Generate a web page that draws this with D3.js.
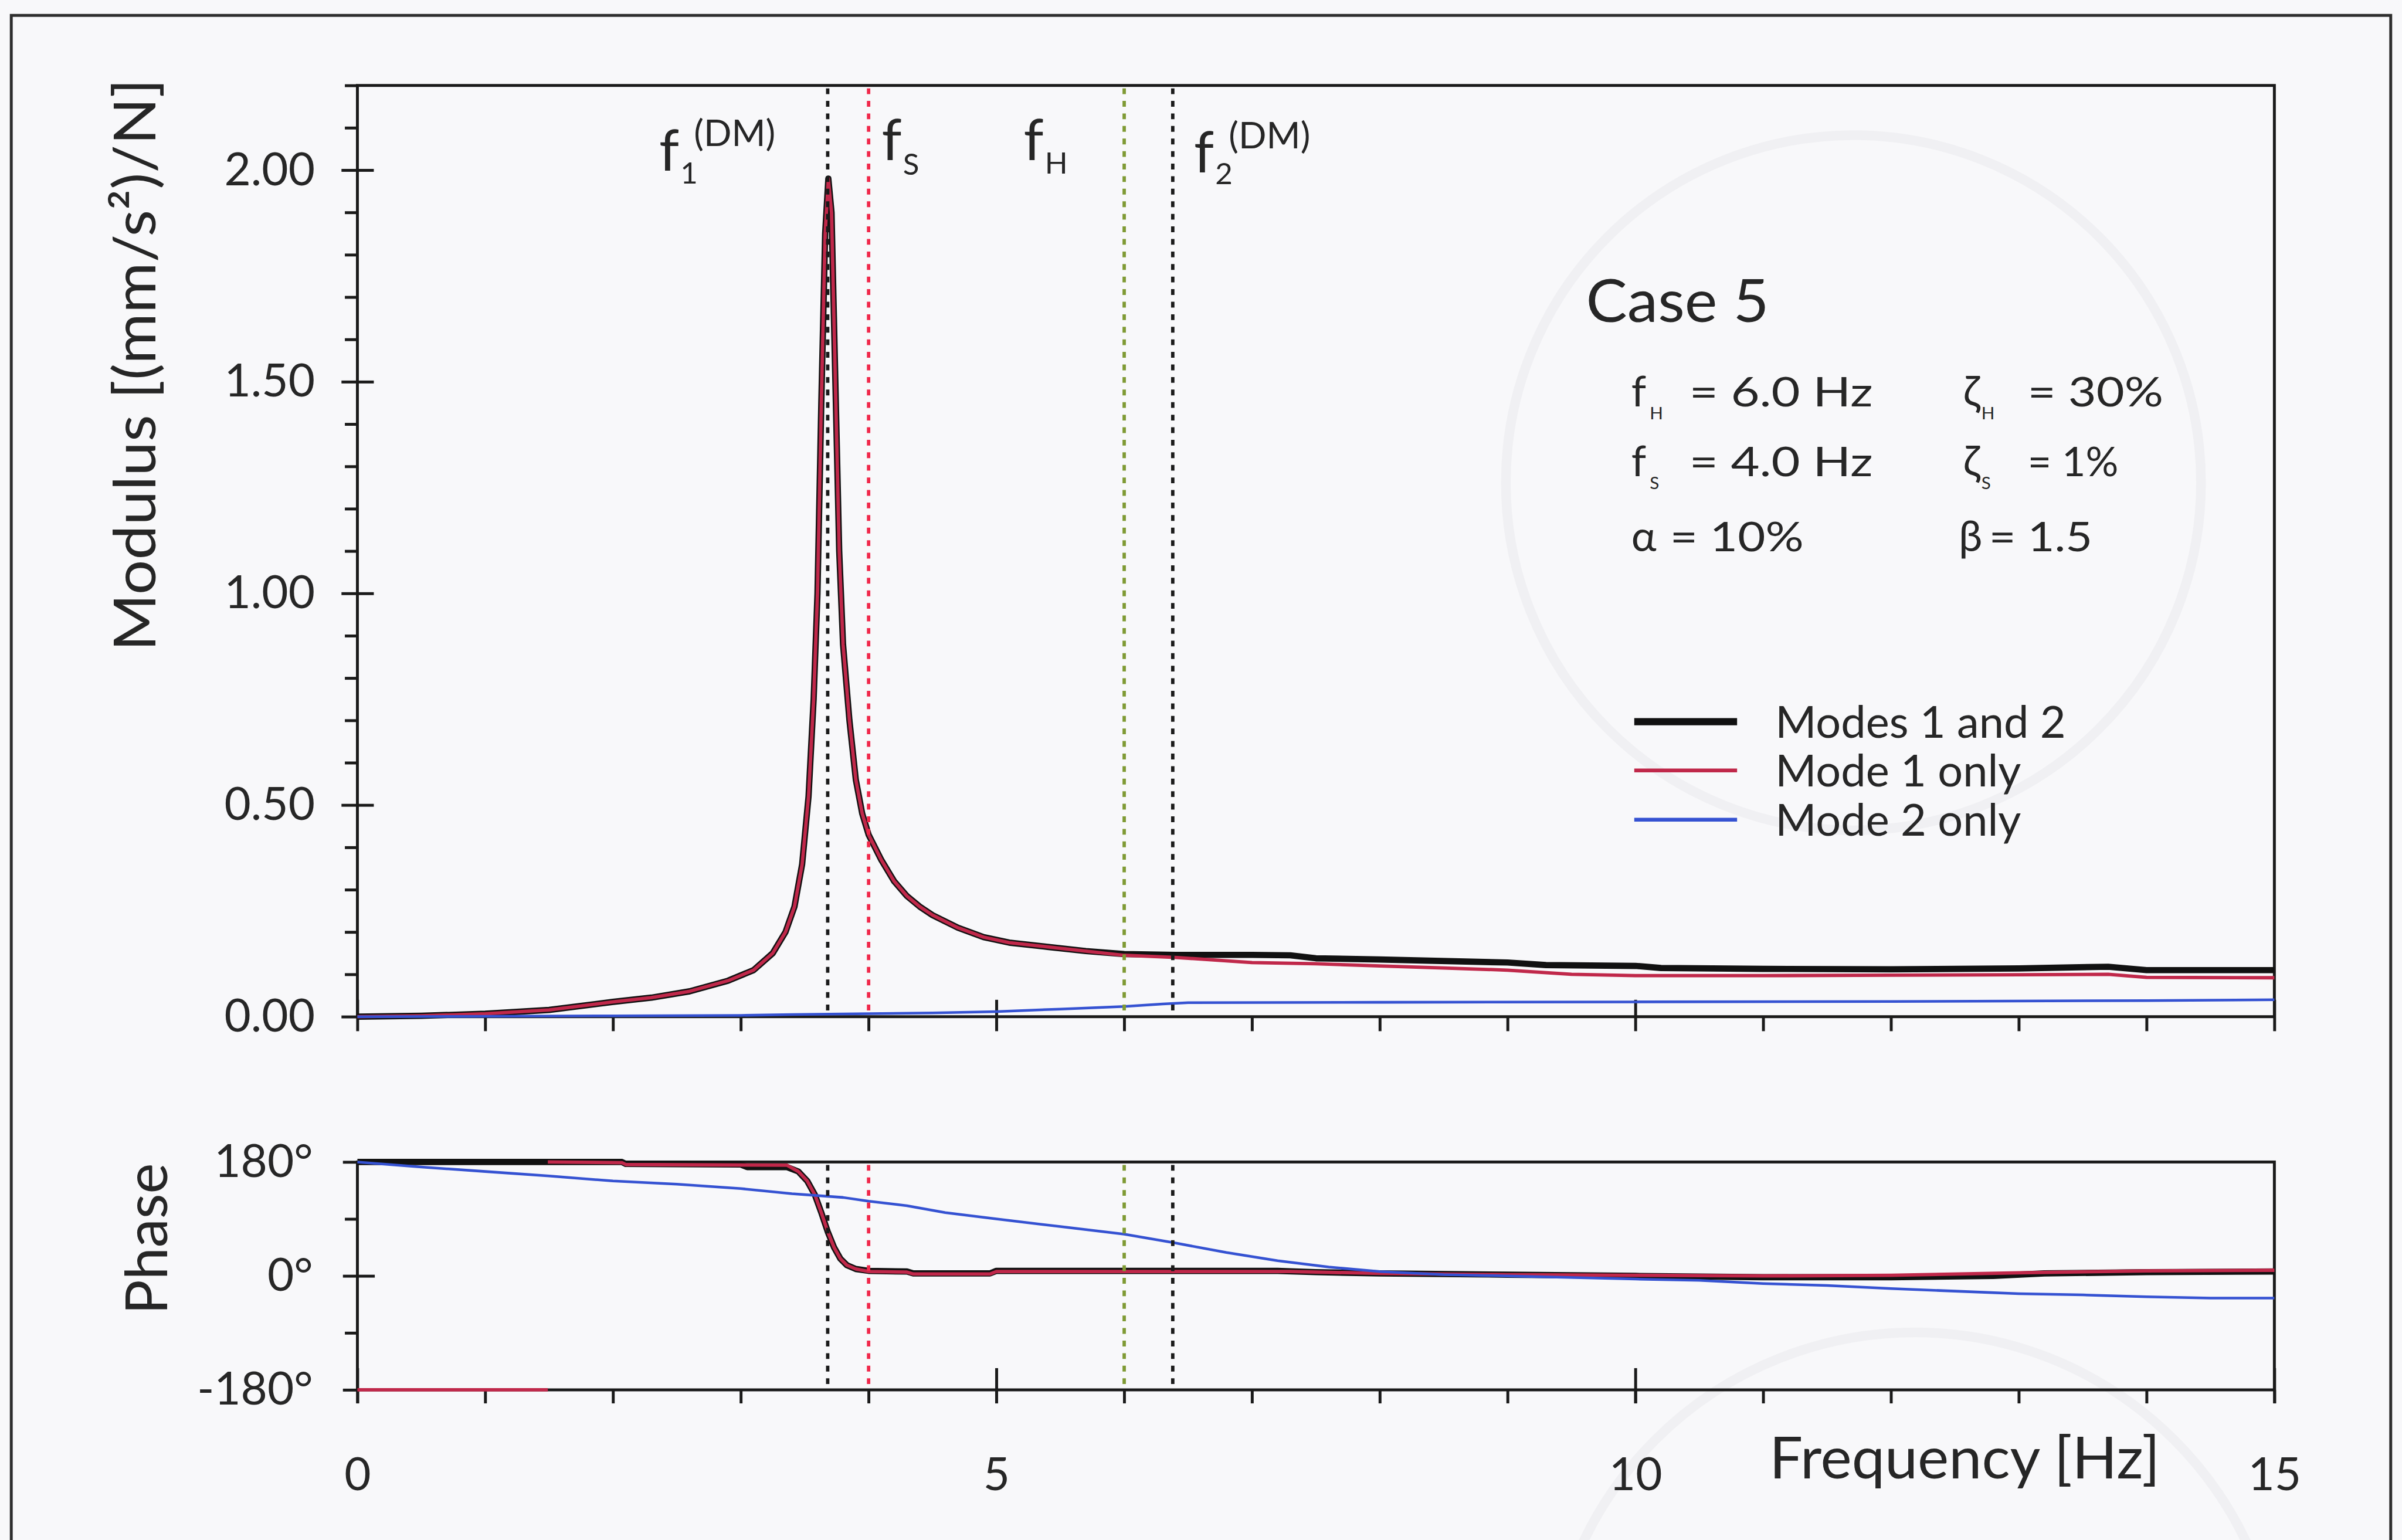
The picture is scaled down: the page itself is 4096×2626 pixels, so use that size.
<!DOCTYPE html>
<html>
<head>
<meta charset="utf-8">
<script src="https://cdn.jsdelivr.net/npm/d3@7"></script>
<style>
  html, body { margin: 0; padding: 0; background: #f8f8fa; }
  svg { display: block; }
  text { font-family: Lato, "DejaVu Sans", sans-serif; fill: #262626; }
</style>
</head>
<body>
<svg id="chart"></svg>
<script>
// ---------------- data ----------------
// frequency [Hz], modulus [(mm/s^2)/N]
const magBoth = [
  [0,0],[0.5,0.002],[1.0,0.007],[1.5,0.016],[2.0,0.035],[2.3,0.045],[2.6,0.06],[2.9,0.085],
  [3.1,0.11],[3.25,0.15],[3.35,0.2],[3.42,0.26],[3.48,0.36],[3.53,0.52],[3.57,0.75],[3.6,1.0],
  [3.63,1.45],[3.66,1.85],[3.685,1.98],[3.71,1.9],[3.74,1.5],[3.77,1.1],[3.8,0.88],[3.85,0.7],
  [3.9,0.56],[3.95,0.48],[4.0,0.43],[4.1,0.37],[4.2,0.32],[4.3,0.285],[4.4,0.26],[4.5,0.24],
  [4.7,0.21],[4.9,0.188],[5.1,0.175],[5.4,0.165],[5.7,0.155],[6.0,0.148],[6.4,0.146],[7.0,0.146],
  [7.3,0.145],[7.5,0.138],[8.0,0.135],[9.0,0.128],[9.3,0.122],[10.0,0.12],[10.2,0.115],[11.0,0.113],
  [12.0,0.112],[13.0,0.114],[13.7,0.118],[14.0,0.11],[15.0,0.11]
];
const magMode1 = [
  [0,0],[0.5,0.002],[1.0,0.007],[1.5,0.016],[2.0,0.035],[2.3,0.045],[2.6,0.06],[2.9,0.085],
  [3.1,0.11],[3.25,0.15],[3.35,0.2],[3.42,0.26],[3.48,0.36],[3.53,0.52],[3.57,0.75],[3.6,1.0],
  [3.63,1.45],[3.66,1.85],[3.685,1.98],[3.71,1.9],[3.74,1.5],[3.77,1.1],[3.8,0.88],[3.85,0.7],
  [3.9,0.56],[3.95,0.48],[4.0,0.43],[4.1,0.37],[4.2,0.32],[4.3,0.285],[4.4,0.26],[4.5,0.24],
  [4.7,0.21],[4.9,0.188],[5.1,0.175],[5.4,0.165],[5.7,0.155],[6.0,0.145],[6.4,0.14],[7.0,0.128],
  [7.5,0.125],[8.0,0.12],[8.5,0.115],[9.0,0.11],[9.5,0.1],[10.0,0.097],[11.0,0.097],[12.0,0.098],
  [13.0,0.099],[13.7,0.1],[14.0,0.093],[15.0,0.092]
];
const magMode2 = [
  [0,0],[1,0.001],[2,0.002],[3,0.003],[3.4,0.005],[4,0.007],[4.5,0.009],[5,0.012],[5.5,0.018],
  [6,0.024],[6.3,0.03],[6.5,0.033],[8,0.034],[10,0.035],[12,0.036],[14,0.038],[15,0.04]
];

// frequency [Hz], phase [deg]; a null value breaks the line at the wrap
const phaseBoth = [
  [0,180],[2.07,180],[2.1,177],[3.0,176],[3.05,172],[3.36,172],[3.45,165],[3.52,150],[3.58,128],
  [3.63,100],[3.68,70],[3.73,45],[3.78,27],[3.83,17],[3.9,11],[4.0,8],[4.3,7],[4.35,4],[4.95,4],
  [5.0,8],[7.2,8],[7.5,6],[8,4],[9,2],[10,0],[11,-2],[12,-2],[12.8,0],[13.2,4],[14,6],[15,7]
];
const phaseMode1 = [
  [0,-180],[1.49,-180],[1.49,null],[1.49,180],[2.07,179],[2.1,176],[3.36,175],[3.45,165],
  [3.52,150],[3.58,128],[3.63,100],[3.68,70],[3.73,45],[3.78,27],[3.83,17],[3.9,11],[4.0,7],
  [4.3,6],[4.35,3],[4.95,3],[5.0,7],[7.3,7],[8,4],[9,2],[10,1],[11,0],[12,1],[13,5],[14,8],[15,9]
];
const phaseMode2 = [
  [0,180],[0.5,172],[1.0,165],[1.5,158],[2.0,150],[2.5,145],[3.0,138],[3.4,130],[3.8,124],
  [4.0,118],[4.3,111],[4.6,100],[5.0,90],[5.5,78],[6.0,66],[6.4,52],[6.8,37],[7.2,24],[7.6,14],
  [8.0,7],[8.5,2],[9,0],[10,-5],[10.5,-7],[11,-12],[11.5,-15],[12,-20],[12.5,-24],[13,-28],
  [13.5,-30],[14,-33],[14.5,-35],[15,-35]
];

// characteristic frequencies: f1(DM), fS, fH, f2(DM)
const markerFreqs = [3.68, 4.0, 6.0, 6.38];

const freqTicks = [0, 5, 10, 15];
const magTicks = [0, 0.5, 1.0, 1.5, 2.0];
const phaseTicks = [-180, 0, 180];
const legendLabels = ["Modes 1 and 2", "Mode 1 only", "Mode 2 only"];

// ---------------- layout ----------------
const W = 4975, H = 3190;
const svg = d3.select("#chart")
  .attr("width", 4096).attr("height", 2626)
  .attr("viewBox", `0 0 ${W} ${H}`);

svg.append("rect").attr("width", W).attr("height", H).attr("fill", "#f8f8fa");

// faint rings in the paper
const rings = svg.append("g").attr("fill", "none").attr("stroke", "#f0f0f3").attr("stroke-width", 20);
rings.append("circle").attr("cx", 3839).attr("cy", 1000).attr("r", 720);
rings.append("circle").attr("cx", 3966).attr("cy", 3520).attr("r", 760);

// page border
svg.append("path").attr("d", `M23,${H} V32 H4952 V${H}`)
  .attr("fill", "none").attr("stroke", "#2e2e2e").attr("stroke-width", 6);

const x = d3.scaleLinear().domain([0, 15]).range([740, 4711]);
const yMag = d3.scaleLinear().domain([0, 2.2]).range([2106, 177]);
const yPh = d3.scaleLinear().domain([-180, 180]).range([2879, 2407]);

const INK = "#1a1a1a";
function styleAxis(g, fontSize) {
  g.select(".domain").remove();
  g.selectAll("line").attr("stroke", INK).attr("stroke-width", 6);
  g.selectAll("text").attr("font-size", fontSize || 95)
    .attr("font-family", 'Lato, "DejaVu Sans", sans-serif').attr("fill", "#262626");
}

// frames
svg.append("rect").attr("x", x(0)).attr("y", yMag(2.2))
  .attr("width", x(15) - x(0)).attr("height", yMag(0) - yMag(2.2))
  .attr("fill", "none").attr("stroke", INK).attr("stroke-width", 6);
svg.append("rect").attr("x", x(0)).attr("y", yPh(180))
  .attr("width", x(15) - x(0)).attr("height", yPh(-180) - yPh(180))
  .attr("fill", "none").attr("stroke", INK).attr("stroke-width", 6);

// ----- modulus axes -----
const magMinor = d3.range(0, 23).map(i => i / 10).filter(v => !magTicks.some(t => Math.abs(t - v) < 1e-9));
svg.append("g").attr("transform", `translate(${x(0)},0)`)
  .call(d3.axisLeft(yMag).tickValues(magMinor).tickSize(26).tickFormat(""))
  .call(styleAxis);
svg.append("g").attr("transform", `translate(${x(0)},0)`)
  .call(d3.axisLeft(yMag).tickValues(magTicks).tickSize(33).tickPadding(55).tickFormat(d3.format(".2f")))
  .call(styleAxis);
svg.append("g").attr("transform", `translate(${x(0)},0)`)
  .call(d3.axisRight(yMag).tickValues(magTicks).tickSize(34).tickFormat(""))
  .call(styleAxis);
svg.append("g").attr("transform", `translate(0,${yMag(0)})`)
  .call(d3.axisBottom(x).tickValues(d3.range(0, 16)).tickSize(30).tickFormat(""))
  .call(styleAxis);
svg.append("g").attr("transform", `translate(0,${yMag(0)})`)
  .call(d3.axisTop(x).tickValues(freqTicks).tickSize(35).tickFormat(""))
  .call(styleAxis);

// ----- phase axes -----
svg.append("g").attr("transform", `translate(${x(0)},0)`)
  .call(d3.axisLeft(yPh).tickValues([-90, 90]).tickSize(26).tickFormat(""))
  .call(styleAxis);
svg.append("g").attr("transform", `translate(${x(0)},0)`)
  .call(d3.axisLeft(yPh).tickValues(phaseTicks).tickSize(30).tickPadding(62).tickFormat(d => d + "°"))
  .call(styleAxis);
svg.append("g").attr("transform", `translate(${x(0)},0)`)
  .call(d3.axisRight(yPh).tickValues([0]).tickSize(36).tickFormat(""))
  .call(styleAxis);
svg.append("g").attr("transform", `translate(0,${yPh(-180)})`)
  .call(d3.axisBottom(x).tickValues(d3.range(0, 16)).tickSize(28).tickFormat(""))
  .call(styleAxis);
svg.append("g").attr("transform", `translate(0,${yPh(-180)})`)
  .call(d3.axisTop(x).tickValues(freqTicks).tickSize(45).tickFormat(""))
  .call(styleAxis);
svg.append("g").attr("transform", `translate(0,${yPh(-180)})`)
  .call(d3.axisBottom(x).tickValues(freqTicks).tickSize(28).tickPadding(112).tickFormat(d3.format("d")))
  .call(styleAxis);

// ----- curves -----
const magLine = d3.line().x(d => x(d[0])).y(d => yMag(d[1]));
const phLine = d3.line().defined(d => d[1] !== null).x(d => x(d[0])).y(d => yPh(d[1]));

const seriesStyle = [
  { color: "#111111", width: 13 },
  { color: "#c0284a", width: 7 },
  { color: "#3552d2", width: 5.5 }
];
const magSeries = [magBoth, magMode1, magMode2];
const phSeries = [phaseBoth, phaseMode1, phaseMode2];

const curves = svg.append("g").attr("fill", "none")
  .attr("stroke-linejoin", "round").attr("stroke-linecap", "butt");
magSeries.forEach((s, i) => {
  curves.append("path").attr("d", magLine(s))
    .attr("stroke", seriesStyle[i].color).attr("stroke-width", seriesStyle[i].width);
});
phSeries.forEach((s, i) => {
  curves.append("path").attr("d", phLine(s))
    .attr("stroke", seriesStyle[i].color).attr("stroke-width", seriesStyle[i].width);
});

// ----- characteristic frequency markers -----
const markerColors = ["#1a1a1a", "#f0284a", "#7f9a34", "#1a1a1a"];
const markers = svg.append("g").attr("stroke-width", 7).attr("stroke-dasharray", "12 14");
markerFreqs.forEach((f, i) => {
  markers.append("line").attr("x1", x(f)).attr("x2", x(f))
    .attr("y1", yMag(2.2) + 6).attr("y2", yMag(0)).attr("stroke", markerColors[i]);
  markers.append("line").attr("x1", x(f)).attr("x2", x(f))
    .attr("y1", yPh(180) + 6).attr("y2", yPh(-180)).attr("stroke", markerColors[i]);
});

// marker labels
function fLabel(xf, yb, sub, subDy, sup, color) {
  const g = svg.append("g").attr("fill", color);
  g.append("text").attr("x", xf).attr("y", yb).attr("font-size", 118).attr("fill", color).text("f");
  g.append("text").attr("x", xf + 44).attr("y", yb + subDy).attr("font-size", 62).attr("fill", color).text(sub);
  if (sup) g.append("text").attr("x", xf + 72).attr("y", yb - 50).attr("font-size", 76).attr("fill", color).text(sup);
}
fLabel(1365, 353, "1", 27, "(DM)", "#222222");
fLabel(1826, 332, "S", 30, null, "#f0506a");
fLabel(2120, 332, "H", 28, null, "#8aa040");
fLabel(2473, 357, "2", 25, "(DM)", "#222222");

// ----- axis titles -----
svg.append("text")
  .attr("transform", "translate(322,756) rotate(-90)")
  .attr("text-anchor", "middle").attr("font-size", 120)
  .attr("textLength", 1186).attr("lengthAdjust", "spacingAndGlyphs")
  .text("Modulus [(mm/s²)/N]");
svg.append("text")
  .attr("transform", "translate(346,2566) rotate(-90)")
  .attr("text-anchor", "middle").attr("font-size", 120)
  .text("Phase");
svg.append("text")
  .attr("x", 3665).attr("y", 3063).attr("font-size", 120)
  .attr("textLength", 809).attr("lengthAdjust", "spacingAndGlyphs")
  .text("Frequency [Hz]");

// ----- case parameters -----
svg.append("text").attr("x", 3285).attr("y", 667).attr("font-size", 123)
  .attr("textLength", 379).attr("lengthAdjust", "spacingAndGlyphs").text("Case 5");

function param(xs, yb, sym, sub, rest, restX, restLen) {
  svg.append("text").attr("x", xs).attr("y", yb).attr("font-size", 88).text(sym);
  if (sub) svg.append("text").attr("x", xs + 38).attr("y", yb + 26).attr("font-size", 36).text(sub);
  svg.append("text").attr("x", restX).attr("y", yb).attr("font-size", 84)
    .attr("textLength", restLen).attr("lengthAdjust", "spacingAndGlyphs").text(rest);
}
param(3379, 842, "f", "H", "= 6.0 Hz", 3499, 380);
param(4066, 842, "ζ", "H", "= 30%", 4200, 281);
param(3379, 987, "f", "S", "= 4.0 Hz", 3499, 380);
param(4066, 987, "ζ", "S", "= 1%", 4200, 188);
param(3379, 1142, "α", null, "= 10%", 3459, 277);
param(4057, 1142, "β", null, "= 1.5", 4120, 214);

// ----- legend -----
const legendY = [1495, 1596, 1698];
legendLabels.forEach((lab, i) => {
  svg.append("line").attr("x1", 3385).attr("x2", 3598)
    .attr("y1", legendY[i]).attr("y2", legendY[i])
    .attr("stroke", seriesStyle[i].color)
    .attr("stroke-width", i === 0 ? 15 : 8);
  svg.append("text").attr("x", 3677).attr("y", legendY[i] + 33)
    .attr("font-size", 92).text(lab);
});
</script>
</body>
</html>
